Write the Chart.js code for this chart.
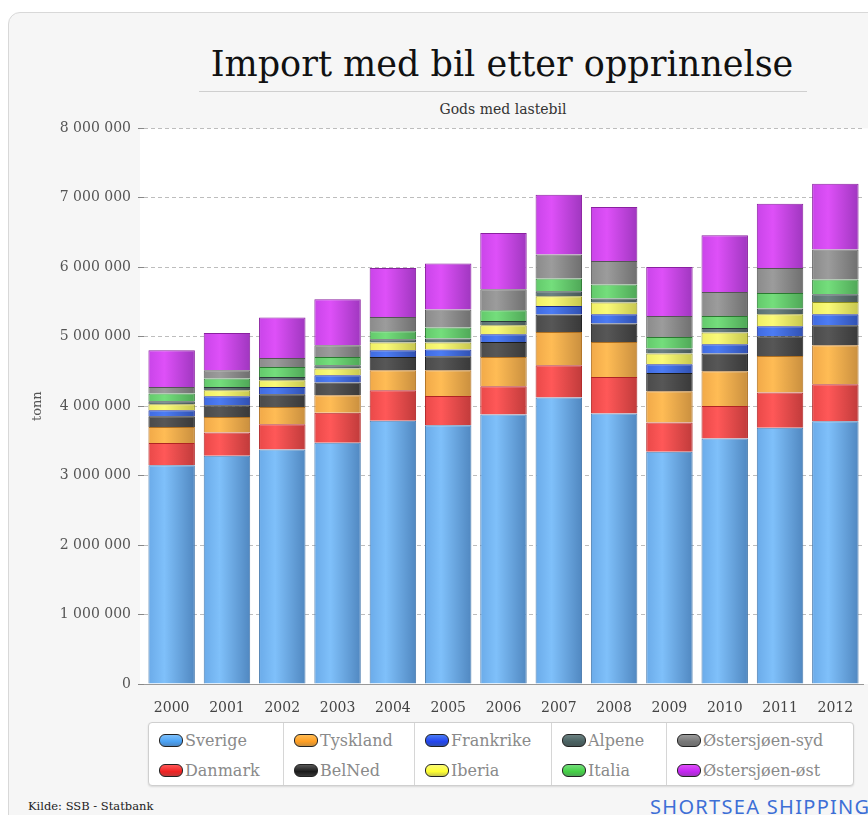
<!DOCTYPE html>
<html>
<head>
<meta charset="utf-8">
<script src="https://cdn.jsdelivr.net/npm/chart.js@4.4.1/dist/chart.umd.min.js"></script>
<style>
  html, body { margin: 0; padding: 0; width: 868px; height: 815px; overflow: hidden; background: #fff; }
  #card { position: absolute; left: 8px; top: 12px; width: 900px; height: 830px; background: #f6f6f6;
          border: 1px solid #d8d8d8; border-radius: 12px; }
  #title { position: absolute; left: 0; width: 1004px; top: 44px; text-align: center;
           font-family: "DejaVu Serif", serif; font-size: 35px; color: #111; }
  #rule { position: absolute; left: 199px; width: 608px; top: 91px; height: 0; border-top: 1px solid #cfcfcf; }
  #subtitle { position: absolute; left: 0; width: 1006px; top: 101px; text-align: center;
              font-family: "DejaVu Serif", serif; font-size: 14px; color: #333; }
  #wrap { position: absolute; left: 0; top: 113px; }
  #legend { position: absolute; left: 148px; top: 722px; width: 704px; height: 62px; background: #fff;
            border: 1px solid #cfcfcf; border-radius: 4px; box-shadow: 0 1px 2px rgba(0,0,0,0.12); display: flex; }
  .col { border-left: 1px solid #d6d6d6; box-sizing: border-box; padding-left: 10px; }
  .col:first-child { border-left: none; }
  .item { height: 30px; display: flex; align-items: center; font-family: "DejaVu Serif", serif;
          font-size: 16px; color: #8a8a8a; white-space: nowrap; }
  .item:first-child { margin-top: 2px; }
  .pill { width: 24px; height: 13px; border-radius: 6px; border: 1.5px solid #222; margin-right: 2px; box-sizing: border-box; }
  #source { position: absolute; left: 28px; top: 799px; font-family: "DejaVu Serif", serif; font-size: 11.5px; color: #222; }
  #brand { position: absolute; left: 650px; top: 793px; font-family: "Noto Sans", sans-serif; font-size: 20px;
           color: #3d6fd6; letter-spacing: 1.3px; white-space: nowrap; }
</style>
</head>
<body>
<div id="card"></div>
<div id="title">Import med bil etter opprinnelse</div>
<div id="rule"></div>
<div id="subtitle">Gods med lastebil</div>
<div id="wrap"><canvas id="chart" width="880" height="601"></canvas></div>
<div id="legend"></div>
<div id="source">Kilde: SSB - Statbank</div>
<div id="brand">SHORTSEA SHIPPING</div>
<script>
// år
const years = ["2000", "2001", "2002", "2003", "2004", "2005", "2006", "2007", "2008", "2009", "2010", "2011", "2012"];

// tonn per opprinnelse (lest av figuren)
const sverige     = [3150000, 3285000, 3377000, 3472000, 3789000, 3727000, 3880000, 4125000, 3895000, 3343000, 3535000, 3688000, 3784000];
const danmark     = [ 321000,  336000,  364000,  432000,  441000,  421000,  408000,  465000,  527000,  422000,  469000,  509000,  533000];
const tyskland    = [ 230000,  225000,  249000,  254000,  288000,  370000,  422000,  479000,  503000,  451000,  500000,  527000,  561000];
const belned      = [ 154000,  168000,  183000,  183000,  192000,  201000,  215000,  250000,  265000,  263000,  254000,  283000,  287000];
const frankrike   = [  86000,  130000,  105000,  105000,   96000,   97000,  111000,  124000,  134000,  125000,  134000,  144000,  159000];
const iberia      = [  87000,   86000,   96000,   96000,  110000,  100000,  129000,  140000,  168000,  154000,  168000,  173000,  177000];
const alpene      = [  43000,   48000,   48000,   48000,   48000,   58000,   63000,   72000,   58000,   72000,   67000,   81000,  111000];
const italia      = [ 111000,  120000,  144000,  120000,  115000,  158000,  153000,  182000,  201000,  167000,  173000,  225000,  211000];
const ostersjoSyd = [  95000,  120000,  129000,  168000,  206000,  259000,  302000,  346000,  340000,  303000,  345000,  360000,  432000];
const ostersjoOst = [ 528000,  537000,  581000,  662000,  705000,  662000,  811000,  863000,  777000,  705000,  815000,  926000,  949000];

const yTicks = [0, 1000000, 2000000, 3000000, 4000000, 5000000, 6000000, 7000000, 8000000];

// serier i stabelrekkefølge (nederst først) + farger [lys, mid, mørk, kant, ikon]
const series = [
    { label: "Sverige",        data: sverige,     c: ["#7fc0fa", "#6aaae8", "#4f86bf", "#4d7eb0", "#4aa2f5"] },
    { label: "Danmark",        data: danmark,     c: ["#ff5858", "#e84848", "#bf3a3a", "#b02424", "#f02222"] },
    { label: "Tyskland",       data: tyskland,    c: ["#ffbc55", "#f0a848", "#c88e3e", "#b07020", "#ff9e22"] },
    { label: "BelNed",         data: belned,      c: ["#575757", "#4a4a4a", "#383838", "#1a1a1a", "#1a1a1a"] },
    { label: "Frankrike",      data: frankrike,   c: ["#4c7cf4", "#3f6ae0", "#3050b0", "#1a2a90", "#2244f0"] },
    { label: "Iberia",         data: iberia,      c: ["#fafa78", "#eeee62", "#c6c64e", "#909020", "#ffff30"] },
    { label: "Alpene",         data: alpene,      c: ["#6c8282", "#5a7070", "#465656", "#2a3a3a", "#4a6262"] },
    { label: "Italia",         data: italia,      c: ["#74de7c", "#62c86a", "#4ea656", "#2a7a30", "#44d044"] },
    { label: "Østersjøen-syd", data: ostersjoSyd, c: ["#9c9c9c", "#8a8a8a", "#6e6e6e", "#555555", "#777777"] },
    { label: "Østersjøen-øst", data: ostersjoOst, c: ["#de50f8", "#c844e8", "#9e36be", "#8a20a0", "#c424f2"] }
];

function fmt(v) {
    return String(v).replace(/\B(?=(\d{3})+(?!\d))/g, " ");
}

// horisontal gradient per søyle
function barFill(cols) {
    return function (ctx) {
        const chart = ctx.chart;
        const xs = chart.scales.x;
        if (!xs || ctx.dataIndex === undefined) return cols[1];
        const cx = xs.getPixelForValue(ctx.dataIndex);
        if (!isFinite(cx)) return cols[1];
        const half = 24;
        const g = chart.ctx.createLinearGradient(cx - half, 0, cx + half, 0);
        g.addColorStop(0, cols[1]);
        g.addColorStop(0.35, cols[0]);
        g.addColorStop(1, cols[2]);
        return g;
    };
}

// hvit plottbakgrunn
const plotBg = {
    id: "plotBg",
    beforeDraw(chart) {
        const a = chart.chartArea;
        const c = chart.ctx;
        c.save();
        c.fillStyle = "#ffffff";
        c.fillRect(a.left - 4, a.top, chart.width - a.left + 4, a.bottom - a.top);
        c.restore();
    }
};

const ctx = document.getElementById("chart").getContext("2d");
new Chart(ctx, {
    type: "bar",
    data: {
        labels: years,
        datasets: series.map(s => ({
            label: s.label,
            data: s.data,
            backgroundColor: barFill(s.c),
            borderColor: s.c[3],
            borderWidth: 1,
            barPercentage: 0.84,
            categoryPercentage: 1
        }))
    },
    options: {
        responsive: false,
        devicePixelRatio: 1,
        animation: false,
        layout: { padding: { top: 5, right: 17, left: 0, bottom: 0 } },
        plugins: {
            legend: { display: false },
            tooltip: { enabled: false }
        },
        scales: {
            x: {
                stacked: true,
                grid: { display: false },
                border: { display: true, color: "#999" },
                ticks: { color: "#444", padding: 8, font: { family: "DejaVu Serif", size: 14 } },
                afterFit(scale) { scale.height = 30; }
            },
            y: {
                stacked: true,
                min: 0,
                max: 8000000,
                afterBuildTicks(scale) { scale.ticks = yTicks.map(v => ({ value: v })); },
                grid: { color: "#bdbdbd", tickLength: 6, tickColor: "#888", drawTicks: true },
                border: { display: false, dash: [4, 3] },
                ticks: {
                    color: "#555",
                    padding: 7,
                    font: { family: "DejaVu Serif", size: 14 },
                    callback: v => fmt(v)
                },
                title: {
                    display: true,
                    text: "tonn",
                    color: "#555",
                    padding: { top: 30, bottom: 0 },
                    font: { family: "DejaVu Serif", size: 13 }
                },
                afterFit(scale) { scale.width = 144; }
            }
        }
    },
    plugins: [plotBg]
});

// legende, fem kolonner à to
const legend = document.getElementById("legend");
const colWidths = [134, 131, 137, 115, 187];
for (let col = 0; col < 5; col++) {
    const div = document.createElement("div");
    div.className = "col";
    div.style.width = colWidths[col] + "px";
    for (let row = 0; row < 2; row++) {
        const s = series[col * 2 + row];
        const item = document.createElement("div");
        item.className = "item";
        const pill = document.createElement("span");
        pill.className = "pill";
        pill.style.background = "linear-gradient(180deg, " + s.c[0] + ", " + s.c[4] + " 60%, " + s.c[2] + ")";
        item.appendChild(pill);
        item.appendChild(document.createTextNode(s.label));
        div.appendChild(item);
    }
    legend.appendChild(div);
}
</script>
</body>
</html>
